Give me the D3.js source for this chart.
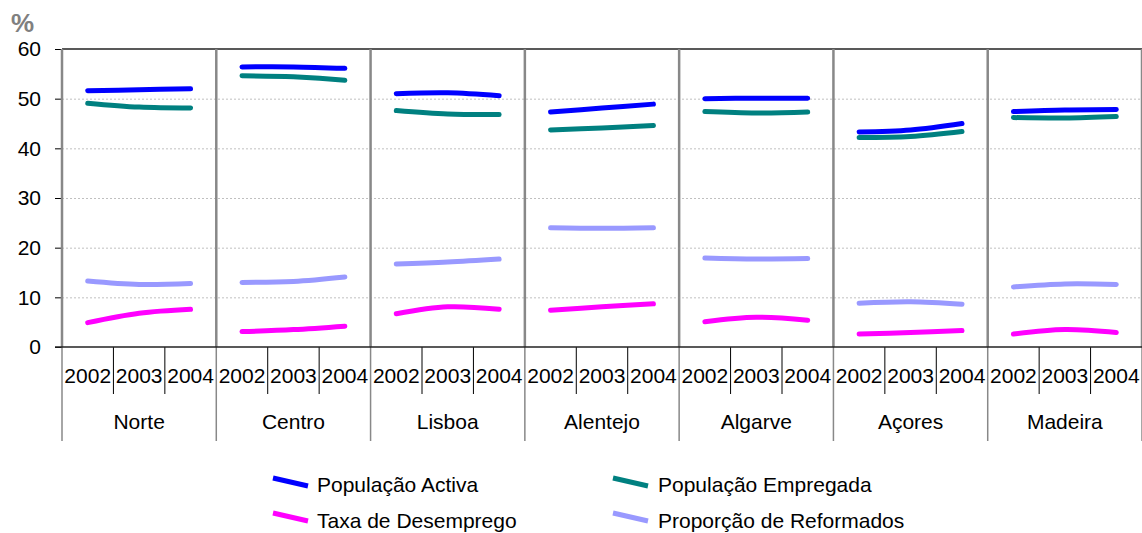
<!DOCTYPE html>
<html>
<head>
<meta charset="utf-8">
<script src="https://cdn.jsdelivr.net/npm/d3@7"></script>
<style>
  html, body { margin: 0; padding: 0; background: #fff; }
  svg { display: block; font-family: "Liberation Sans", Arial, sans-serif; }
</style>
</head>
<body>
<svg id="chart" width="1142" height="533"></svg>
<script>
const regions = ["Norte", "Centro", "Lisboa", "Alentejo", "Algarve", "Açores", "Madeira"];
const years = ["2002", "2003", "2004"];
const yTicks = [0, 10, 20, 30, 40, 50, 60];

const seriesNames = ["População Activa", "População Empregada", "Taxa de Desemprego", "Proporção de Reformados"];
const seriesColors = ["#0000FF", "#008080", "#FF00FF", "#9999FF"];

// values per region, 2002..2004
const populacaoActiva = [
  [51.6, 51.8, 52.0],
  [56.4, 56.4, 56.1],
  [51.0, 51.2, 50.6],
  [47.3, 48.1, 48.9],
  [50.0, 50.1, 50.1],
  [43.3, 43.7, 45.0],
  [47.4, 47.7, 47.8]
];
const populacaoEmpregada = [
  [49.1, 48.3, 48.1],
  [54.6, 54.4, 53.7],
  [47.6, 46.9, 46.8],
  [43.7, 44.1, 44.6],
  [47.4, 47.1, 47.3],
  [42.2, 42.4, 43.4],
  [46.2, 46.1, 46.4]
];
const taxaDesemprego = [
  [4.9, 6.8, 7.6],
  [3.1, 3.5, 4.2],
  [6.7, 8.1, 7.6],
  [7.4, 8.1, 8.7],
  [5.1, 6.0, 5.4],
  [2.6, 2.9, 3.3],
  [2.6, 3.5, 2.9]
];
const proporcaoReformados = [
  [13.3, 12.6, 12.8],
  [13.0, 13.2, 14.1],
  [16.7, 17.1, 17.7],
  [24.0, 23.9, 24.0],
  [17.9, 17.7, 17.8],
  [8.8, 9.1, 8.6],
  [12.1, 12.7, 12.6]
];
const allSeries = [populacaoActiva, populacaoEmpregada, taxaDesemprego, proporcaoReformados];

const svg = d3.select("#chart");
const pLeft = 62, pRight = 1142, pTop = 49, pBottom = 347;

const keys = [];
regions.forEach(r => years.forEach(y => keys.push(r + "|" + y)));

const x = d3.scaleBand().domain(keys).range([pLeft, pRight]).paddingInner(0).paddingOuter(0);
const xg = d3.scaleBand().domain(regions).range([pLeft, pRight]);
const y = d3.scaleLinear().domain([0, 60]).range([pBottom, pTop]);

// gridlines
svg.append("g").selectAll("line").data(yTicks.filter(t => t > 0 && t < 60)).join("line")
  .attr("x1", pLeft).attr("x2", pRight)
  .attr("y1", d => y(d) + 0.5).attr("y2", d => y(d) + 0.5)
  .attr("stroke", "#c0c0c0").attr("stroke-width", 1).attr("stroke-dasharray", "2,2");

// top border
svg.append("line").attr("x1", pLeft).attr("x2", pRight).attr("y1", pTop).attr("y2", pTop)
  .attr("stroke", "#222").attr("stroke-width", 1.5);

// y axis
const yAxis = d3.axisLeft(y).tickValues(yTicks).tickSize(7).tickPadding(14);
const yg = svg.append("g").attr("transform", `translate(${pLeft},0)`).call(yAxis);
yg.select(".domain").remove();
yg.selectAll(".tick line").attr("stroke", "#000");
yg.selectAll(".tick text").attr("font-size", 21).attr("fill", "#000")
  .attr("font-family", "Liberation Sans, Arial, sans-serif");

// region separators (in-plot, gray thick)
const sepX = regions.map(r => xg(r)).concat([pRight]);
svg.append("g").selectAll("line").data(sepX).join("line")
  .attr("x1", d => d).attr("x2", d => d)
  .attr("y1", pTop).attr("y2", pBottom)
  .attr("stroke", "#888").attr("stroke-width", 2.5);

// below axis: year ticks (short, black) and region ticks (long, gray)
const yearTickX = [];
regions.forEach(r => years.forEach((yy, i) => { if (i > 0) yearTickX.push(x(r + "|" + yy)); }));
svg.append("g").selectAll("line").data(yearTickX).join("line")
  .attr("x1", d => d).attr("x2", d => d)
  .attr("y1", pBottom).attr("y2", 394)
  .attr("stroke", "#000").attr("stroke-width", 1);
svg.append("g").selectAll("line").data(sepX).join("line")
  .attr("x1", d => d).attr("x2", d => d)
  .attr("y1", pBottom).attr("y2", 441)
  .attr("stroke", "#888").attr("stroke-width", 1.5);

// x baseline
svg.append("line").attr("x1", pLeft - 7).attr("x2", pRight).attr("y1", pBottom).attr("y2", pBottom)
  .attr("stroke", "#222").attr("stroke-width", 1.5);

// year labels
svg.append("g").selectAll("text").data(keys).join("text")
  .attr("x", d => x(d) + x.bandwidth() / 2)
  .attr("y", 383)
  .attr("text-anchor", "middle").attr("font-size", 21).attr("fill", "#000")
  .text(d => d.split("|")[1]);

// region labels
svg.append("g").selectAll("text").data(regions).join("text")
  .attr("x", d => xg(d) + xg.bandwidth() / 2)
  .attr("y", 429)
  .attr("text-anchor", "middle").attr("font-size", 21).attr("fill", "#000")
  .text(d => d);

// lines
const line = d3.line()
  .x(d => x(d.key) + x.bandwidth() / 2)
  .y(d => y(d.v))
  .curve(d3.curveCatmullRom.alpha(0.5));

allSeries.forEach((ser, si) => {
  const g = svg.append("g");
  regions.forEach((r, ri) => {
    const pts = years.map((yy, yi) => ({ key: r + "|" + yy, v: ser[ri][yi] }));
    g.append("path").attr("d", line(pts))
      .attr("fill", "none").attr("stroke", seriesColors[si])
      .attr("stroke-width", 5).attr("stroke-linecap", "round").attr("stroke-linejoin", "round");
  });
});

// % label
svg.append("text").attr("x", 11).attr("y", 32).attr("font-size", 26).attr("font-weight", "bold")
  .attr("fill", "#808080").text("%");

// legend
const legendPos = [
  { x: 273, y: 478, tx: 317, ty: 492 },
  { x: 613, y: 478, tx: 658, ty: 492 },
  { x: 273, y: 513, tx: 317, ty: 528 },
  { x: 613, y: 513, tx: 658, ty: 528 }
];
const lg = svg.append("g");
seriesNames.forEach((name, i) => {
  const p = legendPos[i];
  lg.append("line").attr("x1", p.x).attr("y1", p.y).attr("x2", p.x + 35).attr("y2", p.y + 8)
    .attr("stroke", seriesColors[i]).attr("stroke-width", 5);
  lg.append("text").attr("x", p.tx).attr("y", p.ty).attr("font-size", 21).attr("fill", "#000").text(name);
});
</script>
</body>
</html>
